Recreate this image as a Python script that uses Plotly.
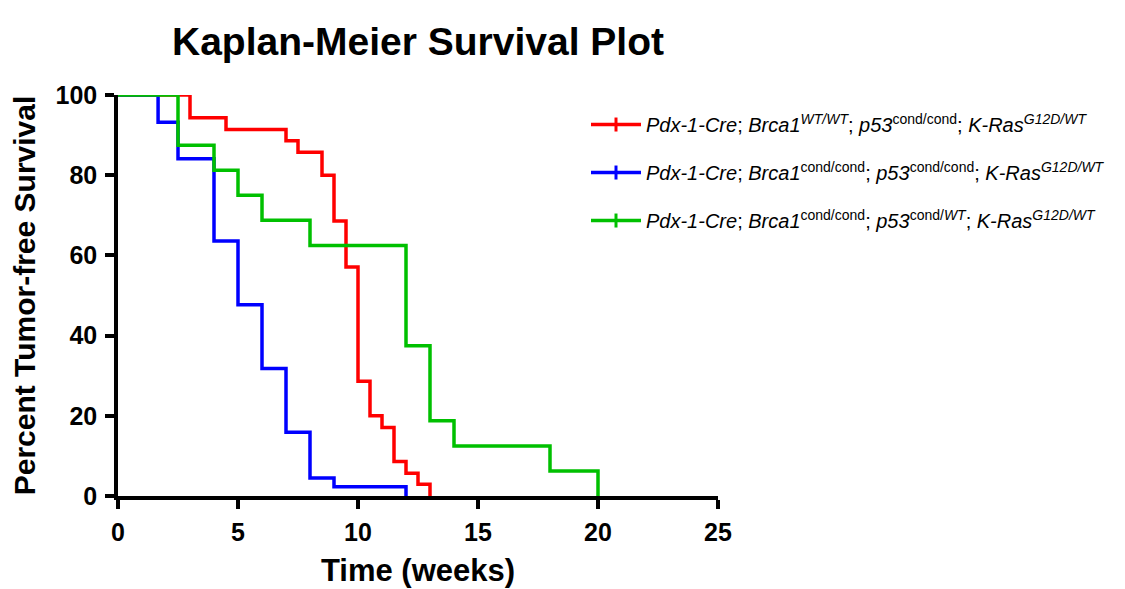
import plotly.graph_objects as go

# ---- data ----
red_t = [0, 3, 4.5, 7, 7.5, 8.5, 9, 9.5, 10, 10.5, 11, 11.5, 12, 12.5, 13]
red_s = [100, 94.3, 91.4, 88.6, 85.7, 80.0, 68.6, 57.1, 28.6, 20.0, 17.1, 8.6, 5.7, 2.9, 0]

blue_t = [0, 1.67, 2.5, 4, 5, 6, 7, 8, 9, 12]
blue_s = [100, 93.2, 84.1, 63.6, 47.7, 31.8, 15.9, 4.5, 2.3, 0]

green_t = [0, 2.5, 4, 5, 6, 8, 12, 13, 14, 18, 20]
green_s = [100, 87.5, 81.25, 75.0, 68.75, 62.5, 37.5, 18.75, 12.5, 6.25, 0]

names = [
    "<i>Pdx-1-Cre</i>; <i>Brca1</i><sup><i>WT/WT</i></sup>; <i>p53</i><sup>cond/cond</sup>; <i>K-Ras</i><sup><i>G12D/WT</i></sup>",
    "<i>Pdx-1-Cre</i>; <i>Brca1</i><sup>cond/cond</sup>; <i>p53</i><sup>cond/cond</sup>; <i>K-Ras</i><sup><i>G12D/WT</i></sup>",
    "<i>Pdx-1-Cre</i>; <i>Brca1</i><sup>cond/cond</sup>; <i>p53</i><sup>cond/<i>WT</i></sup>; <i>K-Ras</i><sup><i>G12D/WT</i></sup>",
]
colors = ["#ff0000", "#0000ff", "#00c000"]

x_ticks = [0, 5, 10, 15, 20, 25]
y_ticks = [0, 20, 40, 60, 80, 100]

series = [(red_t, red_s), (blue_t, blue_s), (green_t, green_s)]

FONT = "Liberation Sans, Arial, sans-serif"

fig = go.Figure()
for (t, s), c in zip(series, colors):
    fig.add_trace(go.Scatter(
        x=t, y=s, mode="lines", line=dict(color=c, width=3.5, shape="hv"),
        showlegend=False, hoverinfo="x+y", cliponaxis=False,
    ))
for i, (name, c) in enumerate(zip(names, colors)):
    fig.add_trace(go.Scatter(
        x=[None], y=[None], mode="lines+markers", name=name,
        legendgroup=f"g{i}",
        line=dict(color=c, width=3.5),
        marker=dict(symbol="line-ns", size=10, line=dict(color=c, width=3)),
    ))

axis_font = dict(family=FONT, size=25, color="black")

fig.update_layout(
    width=1125, height=589,
    margin=dict(l=110, r=415, t=87, b=101),
    paper_bgcolor="white", plot_bgcolor="white",
    font=dict(family=FONT, color="black"),
    title=dict(
        text="<b>Kaplan-Meier Survival Plot</b>",
        font=dict(family=FONT, size=39, color="black"),
        x=0.5, xref="paper", xanchor="center",
        y=0.944, yref="container", yanchor="middle",
    ),
    xaxis=dict(
        range=[0, 25], tickvals=x_ticks, ticktext=[f"<b>{v}</b>" for v in x_ticks],
        showline=True, linecolor="black", linewidth=3.5,
        ticks="outside", ticklen=9, tickwidth=3.5, tickcolor="black",
        ticklabelstandoff=2,
        showgrid=False, zeroline=False, tickfont=axis_font, automargin=False,
        title=dict(text="<b>Time (weeks)</b>", font=dict(family=FONT, size=31, color="black"), standoff=16),
    ),
    yaxis=dict(
        range=[0, 100], tickvals=y_ticks, ticktext=[f"<b>{v}</b>" for v in y_ticks],
        showline=True, linecolor="black", linewidth=3.5,
        ticks="outside", ticklen=9, tickwidth=3.5, tickcolor="black",
        ticklabelstandoff=3,
        showgrid=False, zeroline=False, tickfont=axis_font, automargin=False,
        title=dict(text="<b>Percent Tumor-free Survival</b>", font=dict(family=FONT, size=30, color="black"), standoff=12),
    ),
    legend=dict(
        x=0.780, y=0.975, xanchor="left", yanchor="top",
        font=dict(family=FONT, size=20, color="black"),
        itemwidth=50, tracegroupgap=19, bgcolor="rgba(0,0,0,0)",
    ),
)

fig.write_html("out.html")
